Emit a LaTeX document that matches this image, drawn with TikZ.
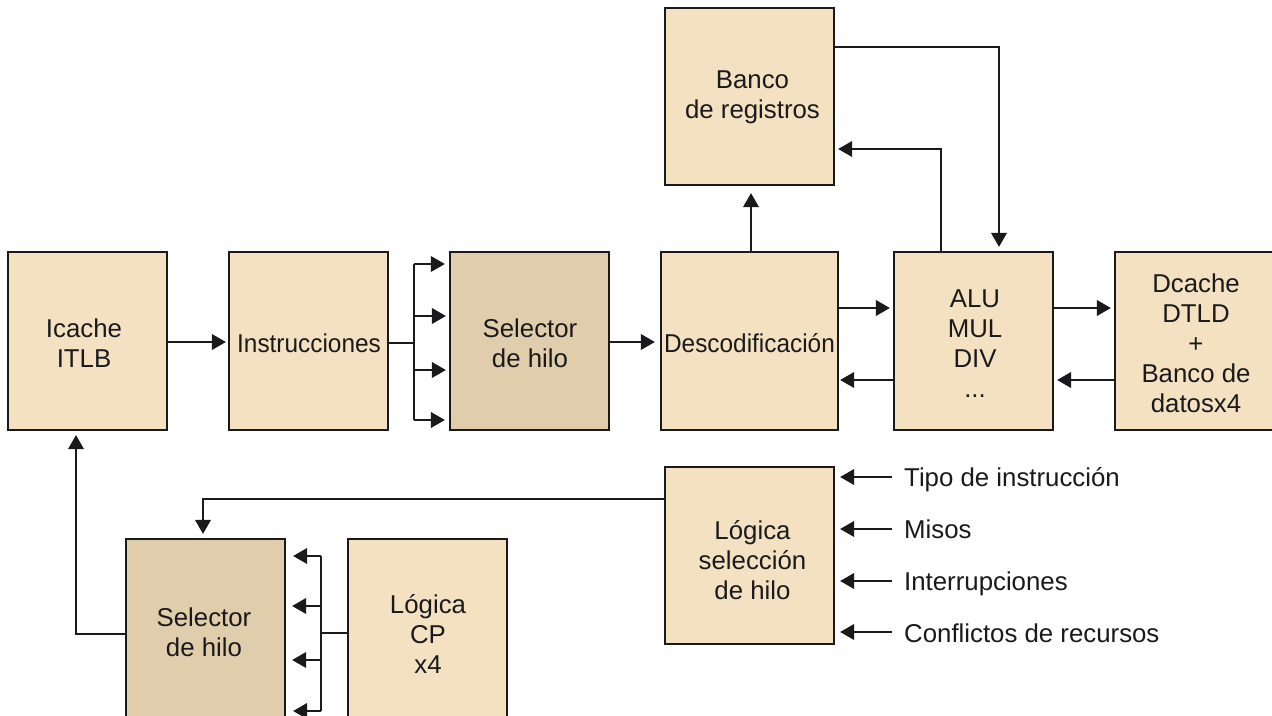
\documentclass[tikz,border=0pt]{standalone}
\usepackage{fontspec}
\usepackage{graphicx}
\setmainfont{Liberation Sans}
\usetikzlibrary{arrows.meta,calc}
\definecolor{ink}{HTML}{1A1A1C}
\definecolor{boxlight}{HTML}{F4E1C1}
\definecolor{boxdark}{HTML}{E0CDAB}
\newcommand{\bigtext}{\fontsize{25.8pt}{30pt}\selectfont}
\tikzset{
  blk/.style={draw=ink,line width=2.2pt,fill=boxlight,inner sep=0pt},
  blkdark/.style={blk,fill=boxdark},
  txt/.style={text=ink,inner sep=0pt,align=center,font=\bigtext},
  lab/.style={text=ink,inner sep=0pt,anchor=base west,font=\bigtext},
  wire/.style={draw=ink,line width=2pt,line join=miter},
  arr/.style={wire,-{Triangle[length=14pt,width=15.5pt]}},
  gap/.style={shorten >=#1pt},
}
\newcommand{\blkat}[6][blk]{% style, name, x1,y1,x2,y2
  \node[#1,minimum width={#5-#3},minimum height={#6-#4}] (#2) at ({(#3+#5)/2},{(#4+#6)/2}) {};}
\begin{document}
\begin{tikzpicture}[x=1pt,y=-1pt]
\useasboundingbox (0,0) rectangle (1272,715);
\fill[white] (0,0) rectangle (1272,715);
% boxes
\blkat{ic}{8}{252}{167}{430}
\blkat{ins}{229}{252}{388}{430}
\blkat[blkdark]{sel}{450}{252}{609}{430}
\blkat{dec}{661}{252}{838}{430}
\blkat{alu}{894}{252}{1053}{430}
\blkat{dc}{1115}{252}{1285}{430}
\blkat{reg}{665}{8}{834}{185}
\blkat{log}{665}{467}{834}{644}
\blkat[blkdark]{sb}{126}{539}{285}{756}
\blkat{cp}{348}{539}{507}{756}
% box texts
\node[txt] (ict) at (84,343) {Icache\\ITLB};
\node[txt] (inst) at (309,343) {\scalebox{.945}[1]{Instrucciones}};
\node[txt] (selt) at (530,343) {Selector\\de hilo};
\node[txt] (dect) at (749.5,343) {\scalebox{.945}[1]{Descodificación}};
\node[txt] (alut) at (975,344) {ALU\\MUL\\DIV\\...};
\node[txt] (dct) at (1196,343) {Dcache\\DTLD\\+\\Banco de\\datosx4};
\node[txt] (regt) at (752.5,97) {Banco\\de registros};
\node[txt] (logt) at (752.5,560) {Lógica\\selección\\de hilo};
\node[txt] (sbt) at (204,632) {Selector\\de hilo};
\node[txt] (cpt) at (428,634) {Lógica\\CP\\x4};
% named free points
\coordinate (t1) at (414,264); \coordinate (t2) at (414,316);
\coordinate (t3) at (414,370); \coordinate (t4) at (414,420);
\coordinate (c1) at (321,556); \coordinate (c2) at (321,606);
\coordinate (c3) at (321,660); \coordinate (c4) at (321,711);
\coordinate (u1) at (892,477); \coordinate (u2) at (892,529);
\coordinate (u3) at (892,581); \coordinate (u4) at (892,632);
\coordinate (a1) at (751,252); \coordinate (a2) at (941,252);
\coordinate (a3) at (999,47); \coordinate (a4) at (203,499);
\coordinate (a5) at (76,634); \coordinate (hi) at (0,308); \coordinate (lo) at (0,380);
\coordinate (mid) at (0,342);
% main line
\draw[arr,gap=2] (ic.east|-mid) -- (ins.west|-mid);
\draw[wire] (ins.east|-0,343) -- (t3|-0,343);
\draw[wire] (t1) -- (t4);
\draw[arr,gap=4] (t1) -- (sel.west|-t1);
\draw[arr,gap=3] (t2) -- (sel.west|-t2);
\draw[arr,gap=3] (t3) -- (sel.west|-t3);
\draw[arr,gap=4] (t4) -- (sel.west|-t4);
\draw[arr,gap=5] (sel.east|-mid) -- (dec.west|-mid);
\draw[arr,gap=7] (a1) -- (reg.south-|a1);
\draw[arr,gap=4] (reg.east|-a3) -| (a3|-alu.north);
\draw[arr,gap=3] (a2) |- (reg.east|-0,149);
\draw[arr,gap=3] (dec.east|-hi) -- (alu.west|-hi);
\draw[arr,gap=1] (alu.west|-lo) -- (dec.east|-lo);
\draw[arr,gap=3] (alu.east|-hi) -- (dc.west|-hi);
\draw[arr,gap=3] (dc.west|-lo) -- (alu.east|-lo);
% lower part
\draw[arr,gap=4] (log.west|-a4) -| (a4|-sb.north);
\draw[arr,gap=4] (sb.west|-a5) -| (a5|-ic.south);
\draw[wire] (cp.west|-0,633) -- (c1|-0,633);
\draw[wire] (c1) -- (c4);
\draw[arr,gap=7] (c1) -- (sb.east|-c1);
\draw[arr,gap=6] (c2) -- (sb.east|-c2);
\draw[arr,gap=6] (c3) -- (sb.east|-c3);
\draw[arr,gap=7] (c4) -- (sb.east|-c4);
\draw[arr,gap=5] (u1) -- (log.east|-u1);
\draw[arr,gap=5] (u2) -- (log.east|-u2);
\draw[arr,gap=5] (u3) -- (log.east|-u3);
\draw[arr,gap=5] (u4) -- (log.east|-u4);
% labels
\node[lab] (l1) at (904,486) {Tipo de instrucción};
\node[lab] (l2) at (904,538) {Misos};
\node[lab] (l3) at (904,590) {Interrupciones};
\node[lab] (l4) at (904,642) {Conflictos de recursos};
\end{tikzpicture}
\end{document}
